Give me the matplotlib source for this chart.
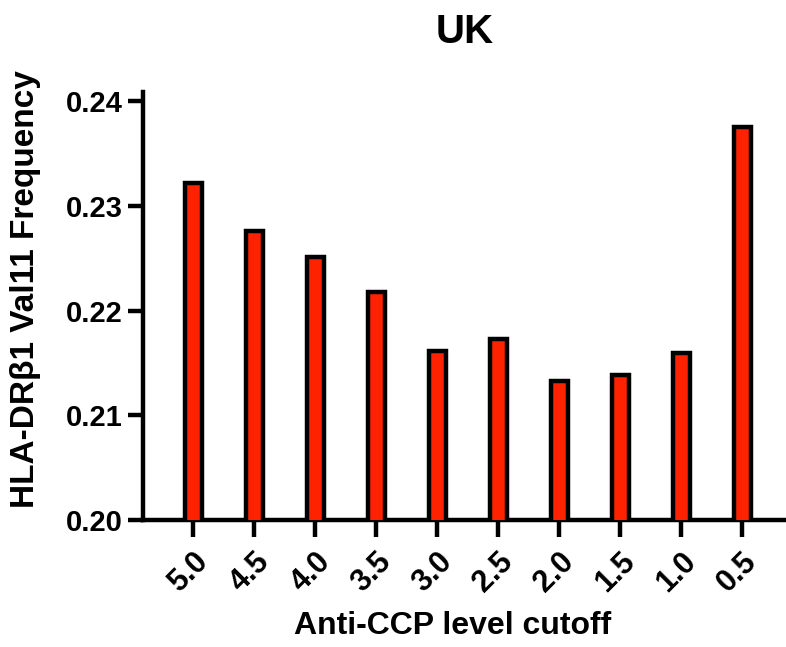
import matplotlib
matplotlib.use("Agg")
import matplotlib.pyplot as plt

categories = ["5.0", "4.5", "4.0", "3.5", "3.0", "2.5", "2.0", "1.5", "1.0", "0.5"]
values = [0.2322, 0.2276, 0.2251, 0.2218, 0.2162, 0.2173, 0.2133, 0.2139, 0.2160, 0.2375]
yticks = [0.20, 0.21, 0.22, 0.23, 0.24]

plt.rcParams['font.family'] = ['Liberation Sans', 'DejaVu Sans']
plt.rcParams['font.weight'] = 'bold'

fig = plt.figure(figsize=(7.86, 6.47), dpi=100)
ax = fig.add_axes([0.182, 0.196, 0.818, 0.662])

x = list(range(len(categories)))
ax.bar(x, values, width=0.28, color='#FF2200', edgecolor='black', linewidth=3.2, zorder=3)

ax.set_ylim(0.20, 0.2409)
ax.set_xlim(-0.82, 9.72)
ax.set_yticks(yticks)
ax.set_yticklabels([f"{t:.2f}" for t in yticks], fontsize=21, fontweight='bold')
ax.set_xticks(x)
ax.set_xticklabels(categories, rotation=45, ha='right', rotation_mode='anchor',
                   fontsize=22, fontweight='bold')

for s in ['top', 'right']:
    ax.spines[s].set_visible(False)
for s in ['left', 'bottom']:
    ax.spines[s].set_linewidth(3.2)
ax.tick_params(axis='y', width=3.2, length=11, direction='out')
ax.tick_params(axis='x', width=3.2, length=12, direction='out', pad=7)

ax.set_ylabel("HLA-DRβ1 Val11 Frequency", fontsize=24, fontweight='bold')
ax.yaxis.set_label_coords(-0.158, 0.54)
ax.set_xlabel("Anti-CCP level cutoff", fontsize=23, fontweight='bold')
ax.xaxis.set_label_coords(0.482, -0.212)
ax.set_title("UK", fontsize=29, fontweight='bold', pad=35)

fig.savefig("out.png", dpi=100)
